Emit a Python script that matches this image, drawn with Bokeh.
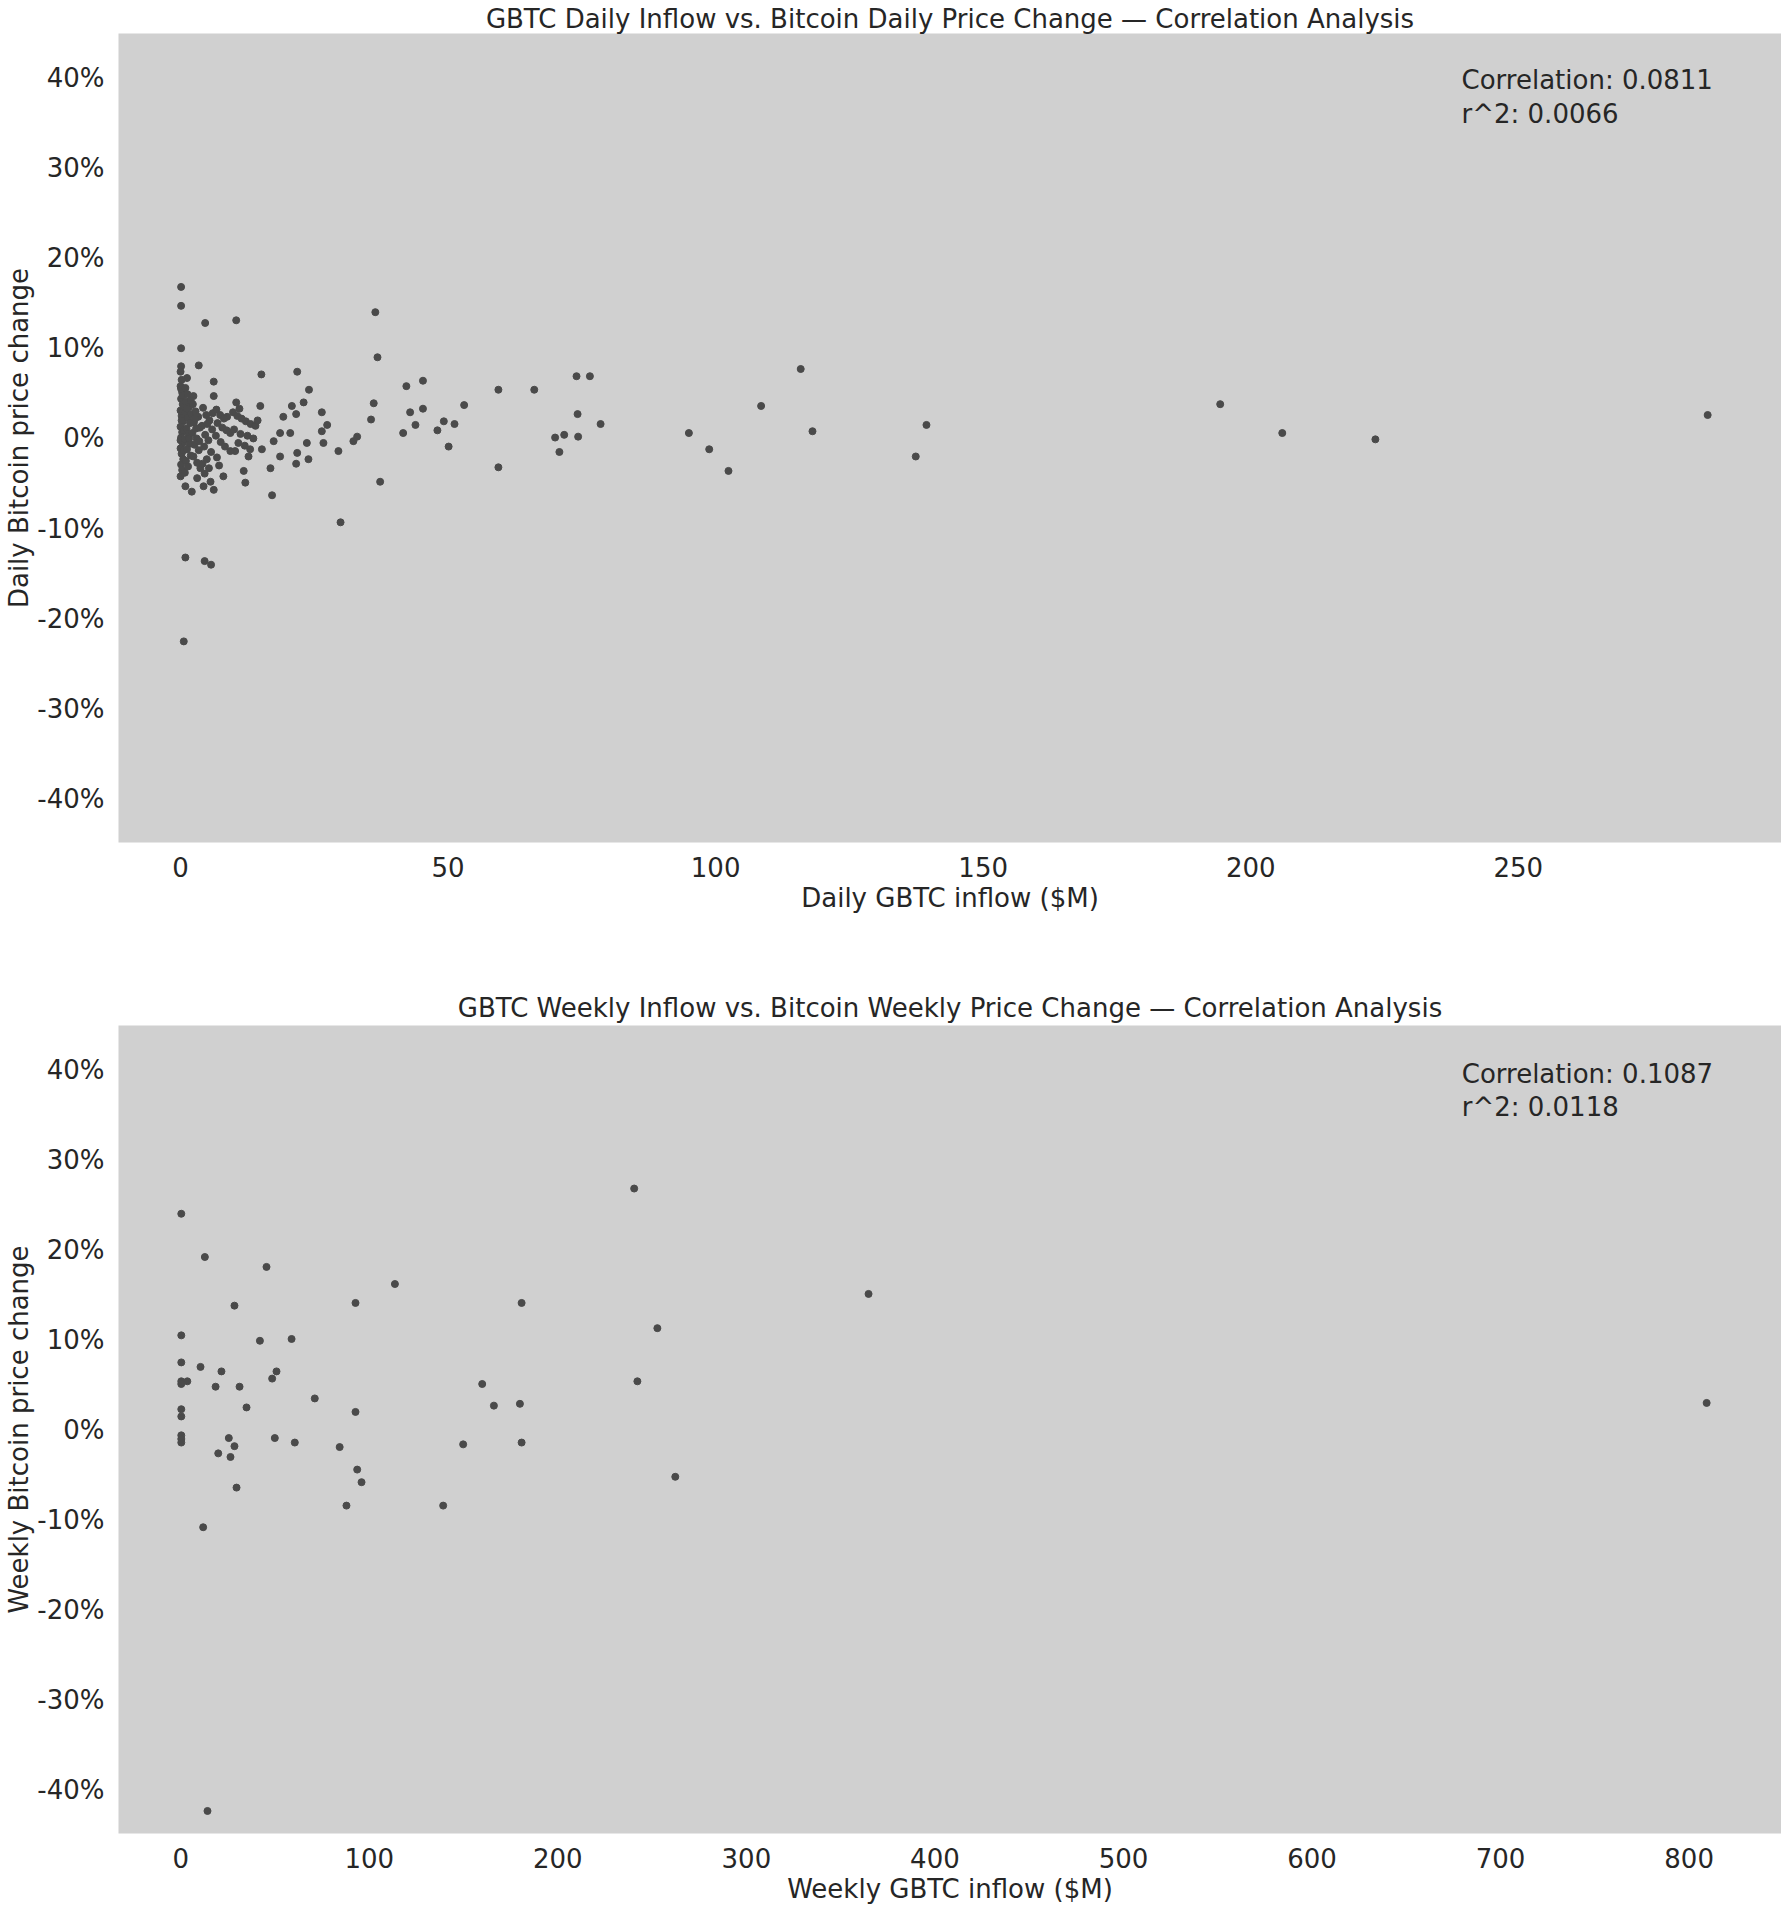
from bokeh.plotting import figure
from bokeh.layouts import column
from bokeh.models import FixedTicker, PrintfTickFormatter, Label, Range1d
from bokeh.embed import file_html
from bokeh.resources import INLINE

# ---------------- data ----------------
daily_inflow = [
    0.1, 0.1, 4.6, 10.4, 36.4, 0.1, 36.8, 3.4, 0.1, 1.2, 6.2, 15.1, 21.8, 24.0, 42.2,
    2.4, 6.2, 10.4, 14.9, 20.8, 23.0, 36.1, 26.4, 21.6, 35.6, 42.9, 41.6, 27.4, 26.4, 33.0,
    32.3, 29.5, 26.7, 23.6, 23.9, 21.8, 18.6, 19.2, 20.5, 18.6, 16.8, 21.6, 17.4, 15.2, 13.0,
    12.7, 10.2, 11.8, 12.1, 37.3, 17.1, 6.2, 4.3, 2.1, 0.9, 0.0, 3.1, 5.6, 8.7, 9.3,
    4.9, 9.3, 0.9, 4.5, 5.7, 0.6, 29.9, 45.3, 59.4, 66.1, 74.0, 76.5, 108.5, 45.3, 53.0,
    43.9, 49.2, 51.2, 48.0, 50.1, 59.4, 74.2, 78.5, 70.0, 71.7, 74.3, 70.8, 95.0, 98.8, 102.4,
    115.9, 118.1, 139.4, 137.4, 194.3, 205.9, 223.3, 285.4,
    0.0, 0.2, 0.0, 0.3, 0.1, 0.4, 0.0, 0.2, 0.5, 0.0, 0.3, 0.1, 0.4, 0.0, 0.2,
    0.5, 0.1, 0.3, 0.0, 0.6, 0.2, 0.4, 0.6, 0.1, 0.5,
    0.9, 1.3, 1.0, 1.6, 0.9, 1.4, 1.8, 1.1, 1.5, 0.8, 1.7, 1.2, 1.9, 1.0, 1.4,
    0.8, 1.6, 2.0, 1.2, 1.9,
    2.3, 2.8, 3.3, 2.5, 3.6, 2.2, 3.0, 2.6, 3.4, 2.4, 3.1, 3.7, 2.9, 3.5, 2.7,
    4.2, 4.8, 5.4, 4.0, 5.9, 4.6, 5.2, 4.4, 5.7, 4.1, 5.3, 4.5, 6.0, 5.0,
    6.7, 7.4, 8.1, 6.9, 7.8, 8.6, 6.6, 7.5, 8.3, 6.8, 7.2, 8.0,
    9.8, 10.6, 11.4, 12.2, 13.1, 14.0, 10.0, 11.2, 12.5, 13.6, 10.8, 14.4, 11.0, 12.0,
]
daily_change = [
    16.8, 14.7, 12.8, 13.1, 14.0, 10.0, 9.0, 8.1, 8.0, 6.7, 6.3, 7.1, 7.4, 5.4, 5.8,
    4.7, 4.7, 4.0, 3.6, 3.6, 4.0, 3.9, 2.9, 2.7, 2.1, 2.9, 0.6, 1.5, 0.8, 0.2,
    -0.3, -1.4, -0.5, -0.5, -2.3, -1.6, 0.6, 2.4, 0.6, -2.0, -3.3, -2.8, -0.3, -1.2, -1.2,
    -2.0, -1.4, -3.6, -4.9, -4.8, -6.3, -5.7, -5.3, -5.9, -5.3, -4.2, -4.4, -4.8, 2.4, 0.6,
    -2.3, -1.4, -13.2, -13.6, -14.0, -22.5, -9.3, 6.4, 5.4, 5.4, 6.9, 6.9, 3.6, 3.3, 3.7,
    1.5, 1.9, 1.6, 0.9, -0.9, -3.2, 2.7, 1.6, 0.1, 0.4, 0.2, -1.5, 0.6, -1.2, -3.6,
    7.7, 0.8, 1.5, -2.0, 3.8, 0.6, -0.1, 2.6,
    7.4, 6.5, 5.8, 5.1, 4.4, 3.8, 3.1, 2.5, 1.9, 1.3, 0.7, 0.1, -0.5, -1.1, -1.7,
    -2.3, -2.9, -3.5, -0.2, 0.9, 2.0, 4.8, -1.3, 5.5, 3.0,
    5.6, 4.9, 4.1, 3.5, 2.9, 2.3, 1.7, 1.1, 0.5, -0.1, -0.6, -1.2, -1.9, -2.5, -3.1,
    -3.8, 0.0, 2.7, 3.3, 4.2,
    3.8, 3.0, 2.4, 1.8, 1.2, 0.6, 0.0, -0.7, -1.3, -2.0, -2.7, -3.3, 1.1, -0.3, 2.2,
    3.4, 2.6, 2.0, 1.4, 1.0, 0.4, -0.2, -0.9, -1.5, -2.8, -3.3, -3.9, 2.8, 1.6,
    3.2, 2.6, 2.2, 1.7, 1.2, 0.9, 0.3, -0.4, -0.9, -2.1, -3.0, -4.2,
    2.9, 2.5, 2.2, 1.9, 1.6, 1.4, 1.0, 0.5, 0.3, 0.0, -0.5, 2.0, 3.3, -0.8,
]

weekly_inflow = [
    0.3, 12.8, 45.5, 113.6, 92.7, 180.8, 28.5, 0.3, 42.0, 58.8, 0.3, 10.5, 21.6, 50.8, 48.5,
    0.3, 3.5, 0.3, 18.5, 31.2, 159.9, 71.1, 34.9, 166.1, 179.9, 92.7, 0.3, 0.3, 0.3, 0.3,
    0.3, 25.5, 28.5, 49.9, 60.5, 84.3, 149.8, 180.8, 19.9, 26.4, 93.6, 95.9, 29.6, 87.9, 139.2,
    11.9, 240.5, 364.8, 252.8, 242.2, 262.3, 809.3, 14.2,
]
weekly_change = [
    24.0, 19.2, 18.1, 16.2, 14.1, 14.1, 13.8, 10.5, 9.9, 10.1, 7.5, 7.0, 6.5, 6.5, 5.7,
    5.4, 5.4, 5.1, 4.8, 4.8, 5.1, 3.5, 2.5, 2.7, 2.9, 2.0, 2.3, 1.5, -0.6, -1.0,
    -1.4, -0.9, -1.8, -0.9, -1.4, -1.9, -1.6, -1.4, -2.6, -3.0, -4.4, -5.8, -6.4, -8.4, -8.4,
    -10.8, 26.8, 15.1, 11.3, 5.4, -5.2, 3.0, -42.3,
]

y_ticks = [-40, -30, -20, -10, 0, 10, 20, 30, 40]
daily_x_ticks = [0, 50, 100, 150, 200, 250]
weekly_x_ticks = [0, 100, 200, 300, 400, 500, 600, 700, 800]

daily_stats = ["Correlation: 0.0811", "r^2: 0.0066"]
weekly_stats = ["Correlation: 0.1087", "r^2: 0.0118"]

FONT = "DejaVu Sans"
FS = "26px"
BG = "#d0d0d0"
PT = "#4a4a4a"
TXT = "#262626"


def make_plot(title, xlab, ylab, xs, ys, xr, xticks, stats, stat_x, stat_y, height,
              border_top, border_bottom, title_standoff):
    p = figure(width=1781, height=height, x_range=Range1d(*xr), y_range=Range1d(-44.8, 44.9),
               output_backend="svg", toolbar_location=None, title=title,
               min_border_left=118, min_border_right=0, min_border_top=border_top,
               min_border_bottom=border_bottom)
    p.background_fill_color = BG
    p.border_fill_color = "white"
    p.outline_line_color = None
    p.xgrid.visible = False
    p.ygrid.visible = False

    p.title.text_font = FONT
    p.title.text_font_size = FS
    p.title.text_font_style = "normal"
    p.title.text_color = TXT
    p.title.align = "center"
    p.title.standoff = title_standoff

    for ax in (p.xaxis[0], p.yaxis[0]):
        ax.axis_line_color = None
        ax.major_tick_line_color = None
        ax.minor_tick_line_color = None
        ax.major_label_text_font = FONT
        ax.major_label_text_font_size = FS
        ax.major_label_text_color = TXT
        ax.axis_label_text_font = FONT
        ax.axis_label_text_font_size = FS
        ax.axis_label_text_font_style = "normal"
        ax.axis_label_text_color = TXT

    p.xaxis.axis_label = xlab
    p.yaxis.axis_label = ylab
    p.xaxis.ticker = FixedTicker(ticks=xticks)
    p.yaxis.ticker = FixedTicker(ticks=y_ticks)
    p.yaxis.formatter = PrintfTickFormatter(format="%d%%")
    p.xaxis.major_label_standoff = 8
    p.yaxis.major_label_standoff = 8
    p.xaxis.axis_label_standoff = 3
    p.yaxis.axis_label_standoff = 0

    p.scatter(xs, ys, size=7, fill_color=PT, line_color=PT, fill_alpha=1.0)

    for i, s in enumerate(stats):
        p.add_layout(Label(x=stat_x, y=stat_y[i], text=s, text_font=FONT, text_font_size=FS,
                           text_color=TXT, text_baseline="top", text_align="left"))
    return p


p1 = make_plot("GBTC Daily Inflow vs. Bitcoin Daily Price Change \u2014 Correlation Analysis",
               "Daily GBTC inflow ($M)", "Daily Bitcoin price change",
               daily_inflow, daily_change, (-11.6, 299.2), daily_x_ticks,
               daily_stats, 239.4, [41.4, 37.6], 960, 33, 118, 0)
p2 = make_plot("GBTC Weekly Inflow vs. Bitcoin Weekly Price Change \u2014 Correlation Analysis",
               "Weekly GBTC inflow ($M)", "Weekly Bitcoin price change",
               weekly_inflow, weekly_change, (-33.0, 849.0), weekly_x_ticks,
               weekly_stats, 679.4, [41.2, 37.5], 946, 65, 72, 5)

layout = column(p1, p2, spacing=0)
open("out.html", "w").write(file_html(layout, INLINE))
